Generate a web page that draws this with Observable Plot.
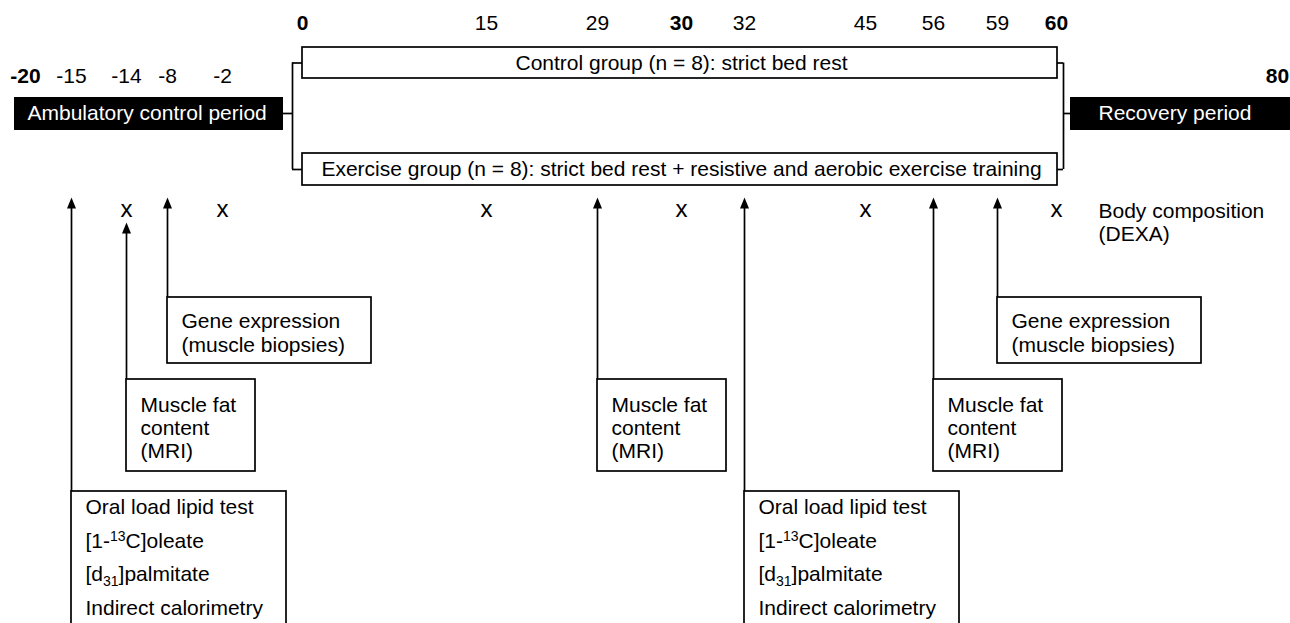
<!DOCTYPE html>
<html>
<head>
<meta charset="utf-8">
<script src="https://cdn.jsdelivr.net/npm/d3@7"></script>
<script src="https://cdn.jsdelivr.net/npm/@observablehq/plot@0.6"></script>
<style>
html, body { margin: 0; padding: 0; background: #fff; overflow: hidden; }
#chart svg { display: block; overflow: hidden; }
</style>
</head>
<body>
<div id="chart"></div>
<script>
// ---------- data ----------
const topDays = [0, 15, 29, 30, 32, 45, 56, 59, 60];
const sideDays = [-20, -15, -14, -8, -2, 80];
const boldDays = [-20, 0, 30, 60, 80];

const groups = [
  "Control group (n = 8): strict bed rest",
  "Exercise group (n = 8): strict bed rest + resistive and aerobic exercise training"
];
const bedRestStart = 0;
const bedRestEnd = 60;

const periods = ["Ambulatory control period", "Recovery period"];
const periodStart = [-20, 60];
const periodEnd = [0, 80];

const dexaDays = [-14, -2, 15, 30, 45, 60];
const dexaLabel = ["Body composition", "(DEXA)"];

const arrowDays  = [-15, -14, -8, 29, 32, 56, 59];
const arrowTests = ["lipid", "mri", "gene", "mri", "lipid", "mri", "gene"];

const geneLines  = ["Gene expression", "(muscle biopsies)"];
const mriLines   = ["Muscle fat", "content", "(MRI)"];
const lipidLines = ["Oral load lipid test", "[1-13C]oleate", "[d31]palmitate", "Indirect calorimetry"];

// ---------- layout (positions / sizes / styles) ----------
const FONT = "Liberation Sans, Arial, Helvetica, sans-serif";
const FS = 21;
const SW = 1.7;
const L = {
  topLabelY: 23, sideLabelY: 76,
  groupTop: [47, 153], groupBottom: [78, 185], groupTextY: [63, 169],
  periodTop: 97, periodBottom: 130, periodMid: 113,
  markY: 209, tipY: 197, tipYBelowMark: 222,
  dexaY: [211, 234],
  pad: 14
};
const boxLayout = {
  gene:  {top: 297, bottom: 363, width: 204, first: 321, lh: 24, lines: geneLines},
  mri:   {top: 379, bottom: 471, width: 129, first: 405, lh: 23, lines: mriLines},
  lipid: {top: 491, bottom: 650, width: 215, first: 507, lh: 33.5, lines: lipidLines}
};

const arrows = arrowDays.map((d, i) => ({day: d, test: arrowTests[i]}));
const tipOf = d => dexaDays.includes(d.day) ? L.tipYBelowMark : L.tipY;
const boxLines = arrows.flatMap(a => boxLayout[a.test].lines.map((t, j) => ({
  day: a.day, y: boxLayout[a.test].first + j * boxLayout[a.test].lh, text: t
})));

const arrowHead = {
  draw(ctx) {
    ctx.moveTo(0, 0);
    ctx.lineTo(-4.5, 11);
    ctx.lineTo(4.5, 11);
    ctx.closePath();
  }
};

const txt = {fontSize: FS, fill: "black"};

const marks = [
  // day labels
  Plot.text(topDays.filter(d => !boldDays.includes(d)), {x: d => d, y: () => L.topLabelY, text: d => String(d), ...txt}),
  Plot.text(topDays.filter(d => boldDays.includes(d)), {x: d => d, y: () => L.topLabelY, text: d => String(d), fontWeight: "bold", ...txt}),
  Plot.text(sideDays.filter(d => !boldDays.includes(d)), {x: d => d, y: () => L.sideLabelY, text: d => String(d), ...txt}),
  Plot.text(sideDays.filter(d => boldDays.includes(d)), {x: d => d, y: () => L.sideLabelY, text: d => String(d), fontWeight: "bold", ...txt}),

  // brackets
  Plot.ruleX([bedRestStart], {x: d => d, y1: () => (L.groupTop[0] + L.groupBottom[0]) / 2, y2: () => (L.groupTop[1] + L.groupBottom[1]) / 2, dx: -10, stroke: "black", strokeWidth: SW}),
  Plot.ruleY(groups, {y: (d, i) => (L.groupTop[i] + L.groupBottom[i]) / 2, x1: () => bedRestStart, x2: () => bedRestStart, insetLeft: -10, insetRight: 0, stroke: "black", strokeWidth: SW}),
  Plot.ruleY([periods[0]], {y: () => L.periodMid, x1: () => periodEnd[0], x2: () => periodEnd[0], insetLeft: -19, insetRight: 10, stroke: "black", strokeWidth: SW}),
  Plot.ruleX([bedRestEnd], {x: d => d, y1: () => (L.groupTop[0] + L.groupBottom[0]) / 2, y2: () => (L.groupTop[1] + L.groupBottom[1]) / 2, dx: 7, stroke: "black", strokeWidth: SW}),
  Plot.ruleY(groups, {y: (d, i) => (L.groupTop[i] + L.groupBottom[i]) / 2, x1: () => bedRestEnd, x2: () => bedRestEnd, insetLeft: 0, insetRight: -7, stroke: "black", strokeWidth: SW}),
  Plot.ruleY([periods[1]], {y: () => L.periodMid, x1: () => periodStart[1], x2: () => periodStart[1], insetLeft: 7, insetRight: -14, stroke: "black", strokeWidth: SW}),

  // group boxes
  Plot.rect(groups, {x1: () => bedRestStart, x2: () => bedRestEnd, y1: (d, i) => L.groupTop[i], y2: (d, i) => L.groupBottom[i], fill: "white", stroke: "black", strokeWidth: SW, insetRight: -1}),
  Plot.text(groups, {x: () => (bedRestStart + bedRestEnd) / 2, y: (d, i) => L.groupTextY[i], text: d => d, ...txt}),

  // period boxes
  Plot.rect([periods[0]], {x1: () => periodStart[0], x2: () => periodEnd[0], y1: () => L.periodTop, y2: () => L.periodBottom, fill: "black", insetLeft: -11, insetRight: 19}),
  Plot.rect([periods[1]], {x1: () => periodStart[1], x2: () => periodEnd[1], y1: () => L.periodTop, y2: () => L.periodBottom, fill: "black", insetLeft: 14, insetRight: -16}),
  Plot.text([periods[0]], {x: () => periodStart[0], y: () => L.periodMid, text: d => d, textAnchor: "start", dx: 2, fontSize: FS, fill: "white"}),
  Plot.text([periods[1]], {x: () => periodStart[1], y: () => L.periodMid, text: d => d, textAnchor: "start", dx: 42, fontSize: FS, fill: "white"}),

  // DEXA marks
  Plot.text(dexaDays, {x: d => d, y: () => L.markY, text: () => "x", fontSize: 24, fill: "black"}),
  Plot.text(dexaLabel, {x: () => dexaDays[dexaDays.length - 1], y: (d, i) => L.dexaY[i], text: d => d, textAnchor: "start", dx: 42, ...txt}),

  // arrows
  Plot.ruleX(arrows, {x: "day", y1: d => tipOf(d) + 6, y2: d => boxLayout[d.test].top, stroke: "black", strokeWidth: SW}),
  Plot.dot(arrows, {x: "day", y: tipOf, symbol: arrowHead, fill: "black", stroke: "none", r: 5}),

  // measurement boxes
  ...Object.keys(boxLayout).map(k => Plot.rect(arrows.filter(a => a.test === k), {
    x1: "day", x2: "day", y1: () => boxLayout[k].top, y2: () => boxLayout[k].bottom,
    insetRight: -boxLayout[k].width, fill: "white", stroke: "black", strokeWidth: SW
  })),
  Plot.text(boxLines, {x: "day", y: "y", text: "text", textAnchor: "start", dx: L.pad, ...txt})
];

const chart = Plot.plot({
  width: 1290,
  height: 623,
  margin: 0,
  style: {fontFamily: FONT, fontSize: FS + "px", background: "white", color: "black"},
  x: {type: "linear", domain: [-20, -15, -14, -8, -2, 0, 15, 29, 30, 32, 45, 56, 59, 60, 80],
      range: [25, 71, 126, 167, 222, 302, 486, 597, 681, 744, 865, 933, 997, 1056, 1277], axis: null},
  y: {type: "linear", domain: [0, 623], range: [0, 623], axis: null},
  marks
});

// superscript / subscript formatting
function rich(el, parts) {
  while (el.firstChild) el.removeChild(el.firstChild);
  const NS = "http://www.w3.org/2000/svg";
  for (const p of parts) {
    const t = document.createElementNS(NS, "tspan");
    t.textContent = p.t;
    if (p.dy) t.setAttribute("dy", p.dy);
    if (p.fs) t.setAttribute("font-size", p.fs);
    el.appendChild(t);
  }
}
chart.querySelectorAll("text, tspan").forEach(el => {
  if (el.children.length) return;
  if (el.textContent === "[1-13C]oleate") {
    rich(el, [{t: "[1-"}, {t: "13", dy: -7, fs: 14}, {t: "C]oleate", dy: 7}]);
  } else if (el.textContent === "[d31]palmitate") {
    rich(el, [{t: "[d"}, {t: "31", dy: 5, fs: 14}, {t: "]palmitate", dy: -5}]);
  }
});

document.getElementById("chart").appendChild(chart);
</script>
</body>
</html>
